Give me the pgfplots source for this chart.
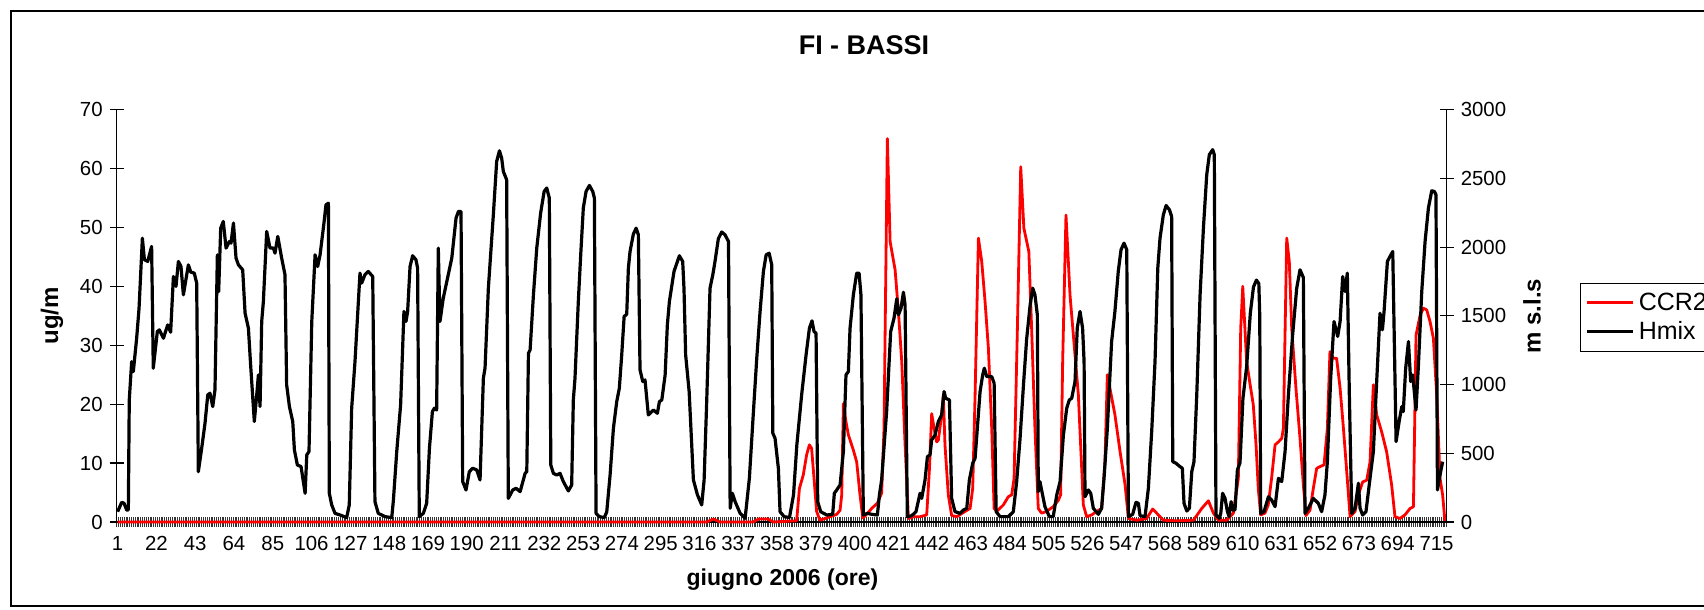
\documentclass[border=0pt]{standalone}
\usepackage{fontspec}
\setmainfont{Liberation Sans}
\usepackage{pgfplots}
\pgfplotsset{compat=1.18}
\begin{document}
\begin{tikzpicture}[x=1pt,y=1pt]
\useasboundingbox (0,0) rectangle (852,305);
\draw[line width=0.6pt] (5.5,2) rectangle (900,299.5);
\pgfplotsset{
  base/.style={
    at={(58.35pt,44pt)}, anchor=south west,
    scale only axis, width=665pt, height=206.15pt,
    xmin=0.5, xmax=720.5,
    tick align=center,
    major tick length=7pt,
    every tick/.style={black, line width=0.6pt},
    axis line style={line width=0.6pt},
    tick label style={font=\fontsize{10.2}{12}\selectfont},
    /pgf/number format/assume math mode=true,
    /pgf/number format/set thousands separator={},
  }
}
\begin{axis}[base,
  ymin=0, ymax=70,
  axis x line*=bottom, axis y line*=left,
  ytick={0,10,...,70},
  xtick={1,22,...,715},
  major x tick style={draw=none},
  minor xtick={0.5,1.5,...,720.5},
  minor tick length=5pt,
  minor x tick style={line width=0.4pt, black!80},
  clip=false,
]
\addplot[red, line width=1.4pt, line join=round] coordinates {
(1,0)(320,0)(323.5,0.5)(327,0)(345,0)(348,0.5)(353,0.5)(356,0)(368.6,0.2)(370.1,5.7)(372.2,8.0)(374.0,11.4)(375.5,13.1)(376.7,12.5)(378.0,7.4)(379.4,1.8)(381.2,0.3)(383.1,0.5)(386.7,0.9)(390.3,1.3)(392.1,2.0)(393.0,4.6)(393.9,20.1)(395.3,17.0)(396.6,14.8)(399.3,12.2)(401.1,10.2)(402.9,4.6)(404.4,0.7)(406.5,1.3)(409.2,2.3)(412.3,3.2)(414.6,4.9)(415.9,15.9)(417.7,65.1)(419.2,47.6)(421.9,42.8)(423.7,35.7)(425.5,27.2)(427.3,13.1)(429.1,0.6)(431.8,0.9)(435.4,0.9)(439.0,1.2)(440.5,9.1)(441.7,18.4)(443.0,15.9)(444.4,13.6)(445.3,13.9)(447.1,18.2)(448.0,21.6)(448.9,13.1)(450.7,4.6)(452.5,1.1)(455.3,0.9)(459.8,1.8)(462.5,2.3)(463.9,5.7)(465.2,21.6)(467.0,48.2)(468.8,44.2)(470.6,37.4)(472.4,29.5)(474.2,15.9)(475.5,2.3)(476.9,1.8)(480.5,2.9)(483.2,4.3)(485.0,4.6)(486.3,7.4)(488.1,32.9)(489.9,60.3)(491.6,49.9)(494.3,45.9)(495.8,32.9)(497.6,15.9)(499.4,2.3)(501.2,1.5)(503.9,1.8)(507.5,2.6)(510.3,3.7)(511.5,4.6)(512.6,27.2)(514.4,52.1)(516.6,38.5)(518.4,31.7)(521.1,21.6)(523.8,2.9)(525.6,0.9)(528.3,1.2)(531.0,1.8)(533.7,2.3)(535.5,10.2)(536.8,25.0)(538.2,22.7)(540.9,18.2)(543.7,11.9)(546.4,6.3)(548.2,0.6)(552.7,0.3)(558.1,0.6)(561.3,2.2)(563.5,1.5)(567.1,0.3)(574.3,0.2)(583.4,0.3)(587.9,2.3)(591.5,3.6)(594.2,1.5)(596.9,0.3)(601.4,0.3)(605.0,1.5)(607.7,7.4)(609.0,32.9)(610.1,40.0)(612.2,27.2)(614.0,23.5)(615.8,19.9)(617.3,13.1)(618.5,5.7)(619.8,1.2)(622.1,1.5)(623.9,2.9)(625.7,7.4)(627.6,13.1)(629.4,13.6)(631.2,14.2)(632.1,15.9)(633.9,48.2)(635.3,44.2)(636.6,32.9)(638.9,22.7)(641.1,14.2)(642.9,6.3)(644.3,1.1)(646.5,2.0)(648.3,5.7)(650.1,9.1)(651.9,9.4)(654.1,9.7)(655.9,15.9)(657.3,28.9)(659.1,27.8)(660.9,27.8)(662.8,22.7)(664.6,15.9)(666.4,8.5)(668.2,0.9)(670.9,1.8)(672.7,4.6)(675.0,6.8)(677.2,7.1)(679.0,10.2)(680.8,23.3)(682.6,18.2)(685.3,15.3)(688.0,11.9)(690.7,6.3)(692.5,0.9)(695.2,0.6)(697.9,1.2)(700.7,2.3)(702.5,2.6)(703.9,31.7)(706.1,35.1)(707.9,36.3)(709.7,36.0)(711.5,34.0)(713.3,31.2)(715.1,21.6)(716.9,7.4)(718.3,4.6)(719.6,0)
};
\end{axis}
\begin{axis}[base,
  ymin=0, ymax=3000,
  axis y line*=right, axis x line=none,
  ytick={0,500,...,3000},
  legend style={at={(1.1002,0.5797)}, anchor=north west, draw=black, line width=0.6pt,
    font=\fontsize{12.5}{14}\selectfont, inner sep=2.5pt, row sep=0pt},
  legend cell align=left,
  legend image code/.code={\draw[#1] (0pt,0pt) -- (23pt,0pt);},
]
\addlegendimage{red, line width=1.4pt}
\addlegendentry{CCR2\hspace{30pt}}
\addplot[black, line width=1.6pt, line join=round] coordinates {
(1,75)(3.2,143)(4.5,136)(5.9,87)(6.8,87)(7.3,888)(8.6,1167)(9.5,1095)(11.3,1337)(12.6,1556)(14.4,2065)(15.5,1908)(17.3,1896)(19.4,2005)(20.3,1119)(22.5,1386)(23.6,1398)(25.8,1337)(28.1,1434)(29.7,1381)(31.2,1786)(32.6,1714)(33.9,1896)(35.3,1859)(36.6,1653)(39.3,1871)(40.6,1818)(42.5,1811)(43.8,1738)(44.7,366)(46.5,536)(48.3,718)(49.8,925)(51.0,937)(52.5,840)(53.7,961)(55.0,1944)(55.7,1677)(56.8,2138)(58.2,2187)(59.7,1993)(61.5,2041)(62.4,2029)(63.7,2175)(65.1,1920)(66.4,1871)(68.7,1835)(70.0,1519)(71.8,1410)(73.0,1143)(75.0,731)(76.3,925)(77.2,1070)(78.1,840)(79.0,1459)(79.9,1604)(81.7,2114)(83.5,1993)(85.3,1993)(86.2,1956)(87.7,2078)(89.8,1920)(91.6,1799)(92.5,998)(94.0,840)(95.8,731)(96.7,524)(98.3,415)(100.3,403)(102.5,209)(103.4,488)(104.6,512)(106.1,1459)(107.9,1944)(109.3,1859)(110.6,1944)(112.7,2175)(113.8,2308)(115.1,2320)(115.6,209)(116.9,124)(118.7,63)(121.4,51)
(125,32)(126.4,124)(127.7,828)(129.5,1167)(132.2,1811)(133.1,1738)(134.9,1799)(136.7,1823)(139.1,1786)(140.3,148)(142.1,63)(145.8,39)(149.4,32)(150.3,160)(152.1,512)(154.2,852)(156.0,1532)(157.1,1459)(158.0,1532)(159.3,1859)(160.7,1937)(162.5,1908)(163.4,1847)(164.3,39)(166.5,63)(168.3,136)(169.8,536)(171.4,803)(172.5,828)(173.7,815)(174.6,1993)(175.5,1459)(177.3,1629)(181.9,1920)(184.2,2211)(185.5,2260)(186.9,2260)(187.8,294)(189.6,233)(191.4,366)(193.2,391)(195.4,379)(197.2,306)(199.0,1046)(199.9,1119)(201.7,1701)(204.4,2235)(206.2,2624)(207.7,2701)(208.9,2648)(209.8,2551)(211.6,2490)(212.5,172)(214.9,233)(216.7,245)(218.9,221)(221.6,354)(222.5,366)(223.4,1228)(224.3,1252)(226.1,1653)(227.9,1993)(230.0,2248)(231.9,2405)(233.3,2430)(234.7,2357)(235.5,415)(236.9,354)(238.7,342)(240.5,354)(242.3,294)(245.0,226)(246.8,269)(247.7,888)(248.6,1046)(250.4,1604)(251.7,1944)(253.1,2284)(254.6,2405)(256.4,2449)(258.2,2405)(259.1,2357)(260.0,63)(261.8,39)(264.5,32)(265.8,75)(267.6,342)(269.4,682)(271.2,876)(272.6,973)(273.9,1216)(275.2,1495)(276.6,1512)(277.5,1847)(278.4,1968)(280.2,2095)(281.7,2138)(282.9,2090)(283.8,1107)(285.3,1022)(286.5,1034)(288.3,779)(291.0,815)(293.2,791)(294.3,876)(295.6,888)(297.4,1070)(298.6,1434)(299.7,1604)(302.2,1823)(305.1,1937)(306.9,1896)(307.6,1701)(308.5,1216)(310.4,949)(312.7,306)(314.9,197)(317.2,124)(318.5,306)(319.9,876)(321.7,1701)(323.2,1799)(324.4,1896)(326.2,2061)(328.0,2110)(329.8,2090)(331.7,2041)(332.6,100)(333.8,209)(335.3,148)(338.0,63)(340.7,27)(343.0,318)(345.2,803)(347.0,1192)(348.8,1532)(350.6,1823)(352.1,1944)(353.7,1956)(355.1,1871)(355.7,646)(356.9,609)(358.7,391)(359.6,75)(361.8,39)(364.7,32)(366.9,197)(368.7,561)(371.3,925)(373.7,1216)(375.5,1410)(376.9,1464)(378.0,1386)(379.1,1374)(380.0,148)(381.6,75)(384.9,51)(388.1,56)(389.0,209)(390.3,233)(392.1,269)(393.9,512)(395.3,1070)(396.6,1095)(397.5,1410)(399.3,1653)(401.1,1811)(402.4,1811)(403.4,1653)(404.7,51)(406.9,63)(409.2,56)(412.3,51)(413.4,197)(414.6,306)(417.3,803)(419.5,1386)(421.3,1483)(422.8,1624)(423.7,1507)(425.1,1556)(426.4,1672)(427.3,1580)(428.5,39)(430.9,46)(433.2,75)(435.4,209)(436.3,172)(438.1,306)(439.4,476)(440.8,488)(441.7,597)(443.5,633)(445.3,731)(447.1,779)(448.4,949)(449.3,900)(451.3,888)(452.5,172)(454.3,75)(457.1,63)(458.9,87)(460.7,100)(462.1,306)(463.9,427)(465.2,464)(467.9,949)(469.3,1070)(470.2,1119)(471.5,1058)(474.2,1058)(475.5,1010)(476.6,75)(478.7,39)(483.2,39)(485.9,75)(487.7,294)(489.5,600)(491.4,1000)(493.1,1330)(495.0,1580)(496.4,1701)(497.6,1653)(498.9,1507)(499.4,221)(500.3,294)(501.2,233)(503.0,112)(505.4,39)(507.5,39)(509.4,197)(511.2,294)(513.0,633)(514.8,828)(516.2,888)(517.5,900)(519.3,1022)(520.5,1410)(522.0,1532)(523.4,1410)(524.2,1167)(524.7,184)(526.5,233)(527.8,209)(529.2,100)(531.9,56)(533.7,100)(535.0,318)(536.8,682)(539.1,1313)(540.9,1532)(542.7,1823)(544.2,1981)(545.8,2029)(547.3,1981)(548.2,39)(550.5,56)(552.3,143)(553.6,136)(554.5,46)(557.2,39)(559.0,245)(560.8,658)(562.6,1167)(564.1,1847)(565.3,2065)(567.1,2235)(568.6,2303)(570.4,2272)(571.6,2223)(572.2,439)(574.0,427)(576.1,403)(577.4,391)(578.3,136)(579.8,80)(581.2,100)(582.5,366)(583.7,439)(585.2,925)(587.0,1653)(588.8,2138)(590.6,2527)(592.0,2672)(593.8,2709)(594.7,2672)(595.6,51)(597.4,27)(598.2,63)(599.2,209)(600.5,172)(601.8,75)(602.7,39)(603.8,148)(604.7,87)(605.9,87)(607.2,379)(608.6,430)(610.2,900)(612.2,1130)(614.2,1520)(615.9,1710)(617.5,1760)(618.8,1735)(619.3,1500)(619.8,63)(621.6,75)(624.0,184)(625.7,160)(627.6,112)(629.4,318)(631.2,294)(633.0,512)(634.8,925)(637.1,1362)(639.3,1701)(641.1,1835)(642.9,1779)(643.8,63)(645.6,100)(648.3,172)(651.0,136)(652.8,75)(654.6,197)(655.9,439)(657.7,1046)(659.5,1459)(661.5,1350)(662.8,1459)(664.2,1786)(665.5,1677)(666.7,1811)(667.8,925)(669.1,63)(670.9,100)(672.7,282)(673.6,100)(675.0,51)(676.8,75)(679.0,318)(680.8,512)(682.6,1022)(684.4,1519)(685.7,1398)(686.6,1532)(688.4,1896)(689.8,1932)(691.3,1968)(693.1,585)(694.9,743)(696.2,840)(697.0,803)(698.3,1119)(699.8,1313)(701.0,1022)(702.1,1070)(703.9,815)(705.2,1143)(707.0,1677)(708.8,2041)(710.6,2284)(712.4,2410)(713.8,2405)(714.7,2381)(715.5,233)(716.9,342)(718.3,439)
};
\addlegendentry{Hmix}
\end{axis}
\node[font=\bfseries\fontsize{13.5}{15}\selectfont] at (432,282.2) {FI - BASSI};
\node[rotate=90, font=\bfseries\fontsize{12}{14}\selectfont] at (26,147) {ug/m};
\node[rotate=90, font=\bfseries\fontsize{12}{14}\selectfont] at (766,147) {m s.l.s};
\node[font=\bfseries\fontsize{11.5}{13}\selectfont] at (391.2,15.4) {giugno 2006 (ore)};
\end{tikzpicture}
\end{document}
